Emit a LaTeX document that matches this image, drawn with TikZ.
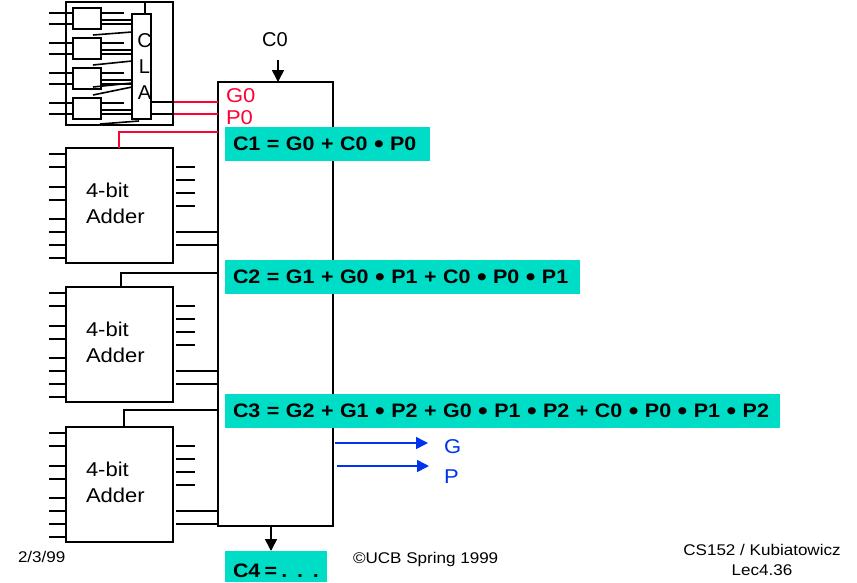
\documentclass[tikz,border=0pt]{standalone}
\usepackage{fontspec}
\setmainfont[FakeStretch=1.1]{Liberation Sans}
\newfontfamily\plainfont{Liberation Sans}
\definecolor{EqTeal}{RGB}{0, 221, 198}
\definecolor{SigRed}{RGB}{255, 0, 51}
\definecolor{SigBlue}{RGB}{0, 51, 238}
\usetikzlibrary{arrows.meta, positioning}
\newcommand{\eqdot}{\raisebox{-2pt}{\fontsize{25}{22}\selectfont •}}

\begin{document}
\begin{tikzpicture}[
    x=1pt, y=-1pt,
    line width=1.6pt,
    every node/.style={font=\fontsize{20}{26}\selectfont, outer sep=0pt},
    adder/.style={draw, fill=white, minimum width=107pt, minimum height=115pt,
                  text width=67pt, text depth=31pt, inner sep=0pt, align=left},
    cell/.style={draw, fill=white, minimum width=28pt, minimum height=21pt, inner sep=0pt},
    eqn/.style={fill=EqTeal, font=\fontsize{19.5}{22}\selectfont\bfseries, anchor=west,
                inner xsep=8pt, inner ysep=0pt, minimum height=34pt, align=left,
                text height=14pt, text depth=0pt},
    foot/.style={font=\fontsize{15.5}{20}\selectfont, align=center},
    sig/.style={anchor=base west, inner sep=0pt},
    wire/.style={line width=1.6pt},
    tip/.style={-{Triangle[length=12pt,width=12pt]}}
]
\useasboundingbox (0,0) rectangle (857,582);

% carry lookahead block
\node[draw, minimum width=107pt, minimum height=123pt, inner sep=0pt] (outer) at (119.5,63.5) {};
\node[draw, fill=white, minimum width=19pt, minimum height=105pt, inner sep=0pt] (cla) at (141.5,66.5) {};
\node[inner sep=0pt, align=center, font=\plainfont\fontsize{20}{26}\selectfont] (clatext) at (144.5,67) {C\\L\\A};
\node[cell] (s1) at (87,18.5) {};
\node[cell] (s2) at (87,48.5) {};
\node[cell] (s3) at (87,78.5) {};
\node[cell] (s4) at (87,108.5) {};
\coordinate (top) at (145,14);
\draw[wire] (top) -- (top |- outer.north);
\foreach \c in {s1,s2,s3,s4} {
    \draw[wire] ([yshift=-5pt]\c.north west) -- ++(-24,0);
    \draw[wire] ([yshift=-16pt]\c.north west) -- ++(-24,0);
    \draw[wire] ([yshift=-5pt]\c.north east) -- ++(23,0);
    \draw[wire] ([yshift=-12pt]\c.north east) -- ++(31,0);
    \draw[wire] ([yshift=-16pt]\c.north east) -- ++(31,0);
}
\coordinate (d1) at (93,35);
\coordinate (d2) at (93,65);
\coordinate (d3) at (93,87);
\coordinate (d4) at (93,95);
\coordinate (d5) at (100,124);
\draw[wire] (d1) -- (132,32);
\draw[wire] (d2) -- (132,61);
\draw[wire] (d3) -- (132,83);
\draw[wire] (d4) -- (132,87);
\draw[wire] (d5) -- (139,121);

% lookahead unit
\node[draw, minimum width=115pt, minimum height=444pt, inner sep=0pt] (unit) at (275.5,304) {};

% adders
\node[adder] (a1) at (119.5,205.5) {4-bit\\Adder};
\node[adder, below=24pt of a1] (a2) {4-bit\\Adder};
\node[adder, below=25pt of a2] (a3) {4-bit\\Adder};
\foreach \a in {a1,a2,a3} {
    \foreach \y in {6,19,39,52,71,84,97,110}
        \draw[wire] ([yshift=-\y pt]\a.north west) -- ++(-17,0);
    \foreach \y in {19,32,45,58}
        \draw[wire] ([xshift=3pt,yshift=-\y pt]\a.north east) -- ++(19,0);
    \foreach \y in {84,97}
        \draw[wire] ([xshift=3pt,yshift=-\y pt]\a.north east) -- ++(42,0);
}

% carries to the adders
\coordinate (c2) at (121,273);
\coordinate (c3) at (124,410);
\coordinate (c1) at (119,132);
\draw[wire] (a2.north -| c2) -- (c2) -- (c2 -| unit.west);
\draw[wire] (a3.north -| c3) -- (c3) -- (c3 -| unit.west);
\draw[wire, SigRed] (a1.north -| c1) -- (c1) -- (c1 -| unit.west);

% G and P out of the block
\coordinate (g0) at (151,102);
\coordinate (p0) at (151,114);
\coordinate (g0m) at (174,102);
\coordinate (p0m) at (174,114);
\draw[wire] (g0) -- ++(36,0);
\draw[wire] (p0) -- ++(36,0);
\draw[wire, SigRed] (g0m) -- (g0m -| unit.west);
\draw[wire, SigRed] (p0m) -- (p0m -| unit.west);

% labels and equations
\node[sig, SigRed] (lg0) at (226,102) {G0};
\node[sig, SigRed] (lp0) at (226,124) {P0};
\node[eqn, text width=189pt] (e1) at (225,143.5) {C1 = G0 + C0 \eqdot{} P0};
\node[eqn, text width=339pt] (e2) at (225,276.5) {C2 = G1 + G0 \eqdot{} P1 + C0 \eqdot{} P0 \eqdot{} P1};
\node[eqn, text width=539pt] (e3) at (225,410.5) {C3 = G2 + G1 \eqdot{} P2 + G0 \eqdot{} P1 \eqdot{} P2 + C0 \eqdot{} P0 \eqdot{} P1 \eqdot{} P2};
\node[eqn, text width=86pt, minimum height=31pt, text height=21pt] (e4) at (225,566.5) {\mbox{\spaceskip=4.2pt C4 = . . .}};

% carry in and out
\node[anchor=base, inner sep=0pt, font=\plainfont\fontsize{20}{26}\selectfont] (c0) at (275,46) {C0};
\coordinate (cin) at (278,60);
\draw[tip] (cin) -- (cin |- unit.north);
\coordinate (cout) at (271,526);
\draw[tip] (cout) -- (cout |- e4.north);

% group signals
\node[sig, SigBlue] (g) at (444,453) {G};
\node[sig, SigBlue] (p) at (444,483) {P};
\coordinate (gs) at (335,443);
\coordinate (ge) at (428,443);
\coordinate (ps) at (337,466);
\coordinate (pe) at (429,466);
\draw[tip, SigBlue] (gs) -- (ge);
\draw[tip, SigBlue] (ps) -- (pe);

% footer
\node[foot, sig] (date) at (18,562) {2/3/99};
\node[foot, sig] (ucb) at (353,563) {©UCB Spring 1999};
\node[foot, inner sep=0pt] (lec) at (762,560) {CS152 / Kubiatowicz\\Lec4.36};
\end{tikzpicture}
\end{document}
